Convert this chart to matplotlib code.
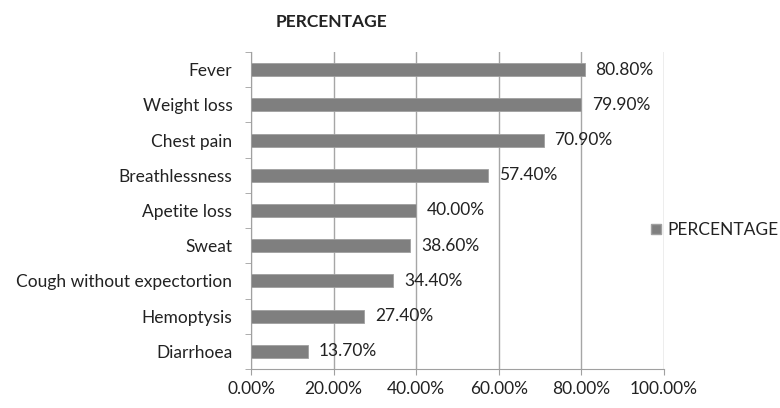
import matplotlib.pyplot as plt
import matplotlib.ticker as mticker
from matplotlib.patches import Patch

plt.rcParams['font.family'] = ['Lato', 'DejaVu Sans']

sintomas = ["Fever", "Weight loss", "Chest pain", "Breathlessness", "Apetite loss",
            "Sweat", "Cough without expectortion", "Hemoptysis", "Diarrhoea"]
valores = [80.8, 79.9, 70.9, 57.4, 40.0, 38.6, 34.4, 27.4, 13.7]
xticks = [0, 20, 40, 60, 80, 100]

cor = "#7f7f7f"
texto = "#222222"
fig = plt.figure(figsize=(7.8, 4.08), dpi=100)
ax = fig.add_axes([0.3218, 0.0956, 0.5295, 0.777])

pos = list(range(len(sintomas)))[::-1]
ax.barh(pos, valores, height=0.37, color=cor, edgecolor="#a0a0a0", linewidth=0.6, zorder=3)
for p, v in zip(pos, valores):
    ax.text(v + 2.6, p, f"{v:.2f}%", va="center", ha="left", fontsize=12.5, color=texto)

ax.set_xlim(0, 100)
ax.set_ylim(-0.5, len(sintomas) - 0.5)
ax.set_xticks(xticks)
ax.xaxis.set_major_formatter(mticker.FuncFormatter(lambda x, _: f"{x:.2f}%"))
ax.set_yticks(pos)
ax.set_yticklabels(sintomas)
ax.set_yticks([i - 0.5 for i in range(len(sintomas) + 1)], minor=True)
ax.tick_params(axis="y", which="major", length=0, pad=13.5, labelsize=12.5, labelcolor=texto)
ax.tick_params(axis="y", which="minor", length=4.5, color="#a0a0a0", direction="out")
ax.tick_params(axis="x", length=4, color="#a0a0a0", pad=5, labelsize=12.5, labelcolor=texto)

ax.grid(axis="x", color="#a6a6a6", linewidth=1, zorder=0)
for s in ["top", "right"]:
    ax.spines[s].set_visible(False)
for s in ["left", "bottom"]:
    ax.spines[s].set_color("#a0a0a0")

fig.text(0.425, 0.946, "PERCENTAGE", ha="center", va="center", fontsize=12.5,
         fontweight="bold", color=texto)

fig.legend(handles=[Patch(facecolor=cor, edgecolor="#a0a0a0", label="PERCENTAGE")],
           loc="center left", bbox_to_anchor=(0.835, 0.436), frameon=False,
           fontsize=12.5, handlelength=0.55, handleheight=0.55, handletextpad=0.35,
           borderaxespad=0, borderpad=0, labelcolor=texto)

fig.savefig("out.png", dpi=100)
